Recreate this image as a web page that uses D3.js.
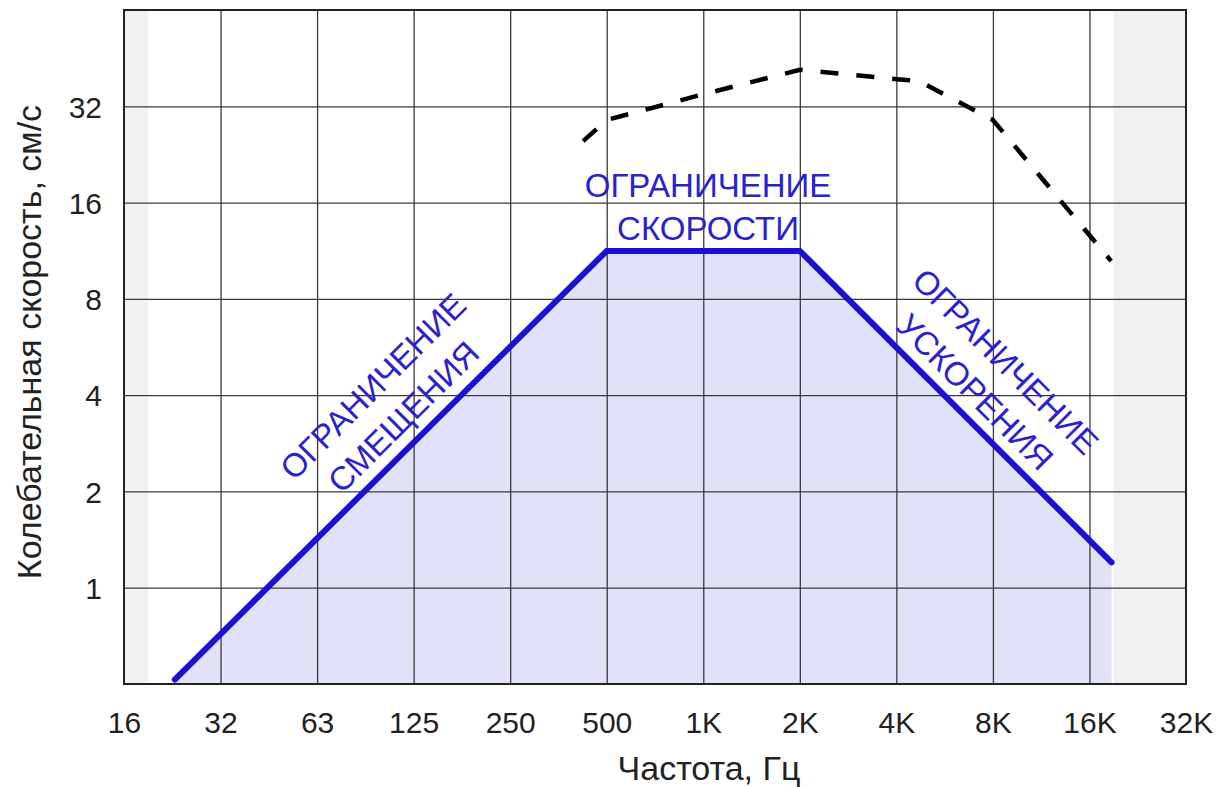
<!DOCTYPE html>
<html>
<head>
<meta charset="utf-8">
<script src="https://cdn.jsdelivr.net/npm/d3@7"></script>
<style>
  html, body { margin: 0; padding: 0; background: #ffffff; }
  svg { display: block; }
  text { font-family: "Liberation Sans", Arial, sans-serif; }
</style>
</head>
<body>
<svg id="chart" width="1216" height="787"></svg>
<script>
// ---- data ----
const freqTicks = [15.625, 31.25, 62.5, 125, 250, 500, 1000, 2000, 4000, 8000, 16000, 32000];
const freqTickLabels = ["16", "32", "63", "125", "250", "500", "1K", "2K", "4K", "8K", "16K", "32K"];
const velTicks = [1, 2, 4, 8, 16, 32];
const velTickLabels = ["1", "2", "4", "8", "16", "32"];

// limit curve (solid blue): frequency, Hz / velocity, cm/s
const limitFreq = [22.5, 500, 2000, 18750];
const limitVel  = [0.516, 11.3, 11.3, 1.2];

// dashed black curve
const dashFreq = [422, 500, 1000, 2000, 4000, 4700, 8000, 18700];
const dashVel  = [24.9, 29.0, 34.9, 41.6, 38.9, 38.4, 29.0, 10.5];

// audible range (outside is shaded gray)
const audibleRange = [18.6, 19000];

const xTitle = "Частота, Гц";
const yTitle = "Колебательная скорость, см/с";
const labelSpeed = ["ОГРАНИЧЕНИЕ", "СКОРОСТИ"];
const labelDisp  = ["ОГРАНИЧЕНИЕ", "СМЕЩЕНИЯ"];
const labelAcc   = ["ОГРАНИЧЕНИЕ", "УСКОРЕНИЯ"];

// ---- layout ----
const W = 1216, H = 787;
const margin = { left: 124, right: 30, top: 10, bottom: 103 };
const iw = W - margin.left - margin.right;
const ih = H - margin.top - margin.bottom;

const svg = d3.select("#chart");
const g = svg.append("g").attr("transform", `translate(${margin.left},${margin.top})`);

const x = d3.scaleLog().base(2).domain([15.625, 32000]).range([0, iw]);
const y = d3.scaleLog().base(2).domain([0.5, 64]).range([ih, 0]);

const blue = "#1c10d2";
const textBlue = "#2a22cc";
const fillBlue = "#e1e1fa";
const gray = "#f1f1f1";
const gridColor = "#3a3a3a";

// gray shaded areas outside the audible range
g.append("rect").attr("x", 0).attr("y", 0)
  .attr("width", x(audibleRange[0])).attr("height", ih).attr("fill", gray);
g.append("rect").attr("x", x(audibleRange[1])).attr("y", 0)
  .attr("width", iw - x(audibleRange[1])).attr("height", ih).attr("fill", gray);

// filled area under the limit curve
const limitData = limitFreq.map((f, i) => ({ f, v: limitVel[i] }));
g.append("path")
  .datum(limitData)
  .attr("fill", fillBlue)
  .attr("d", d3.area().x(d => x(d.f)).y0(ih).y1(d => y(d.v)));

// grid
g.append("g")
  .attr("class", "xgrid")
  .attr("transform", `translate(0,${ih})`)
  .call(d3.axisBottom(x).tickValues(freqTicks.slice(1, -1)).tickSize(-ih).tickFormat(""))
  .call(s => s.select(".domain").remove())
  .call(s => s.selectAll("line").attr("stroke", gridColor).attr("stroke-width", 1.3));
g.append("g")
  .attr("class", "ygrid")
  .call(d3.axisLeft(y).tickValues(velTicks).tickSize(-iw).tickFormat(""))
  .call(s => s.select(".domain").remove())
  .call(s => s.selectAll("line").attr("stroke", gridColor).attr("stroke-width", 1.3));

// frame
g.append("rect").attr("x", 0).attr("y", 0).attr("width", iw).attr("height", ih)
  .attr("fill", "none").attr("stroke", "#222").attr("stroke-width", 2);

// axes labels
const xAxis = g.append("g")
  .attr("transform", `translate(0,${ih})`)
  .call(d3.axisBottom(x).tickValues(freqTicks).tickSize(0)
    .tickFormat((d, i) => freqTickLabels[i]));
xAxis.select(".domain").remove();
xAxis.selectAll("text")
  .attr("y", 49).attr("dy", 0)
  .attr("fill", "#222")
  .style("font-size", "30px")
  .style("font-family", "'Liberation Sans', Arial, sans-serif");

const yAxis = g.append("g")
  .call(d3.axisLeft(y).tickValues(velTicks).tickSize(0)
    .tickFormat((d, i) => velTickLabels[i]));
yAxis.select(".domain").remove();
yAxis.selectAll("text")
  .attr("x", -22).attr("dy", "0.36em")
  .attr("fill", "#222")
  .style("font-size", "30px")
  .style("font-family", "'Liberation Sans', Arial, sans-serif");

svg.append("text")
  .attr("x", 709).attr("y", 780)
  .attr("text-anchor", "middle")
  .attr("fill", "#222")
  .style("font-size", "34px")
  .text(xTitle);

svg.append("text")
  .attr("transform", `translate(41,342) rotate(-90)`)
  .attr("text-anchor", "middle")
  .attr("fill", "#222")
  .style("font-size", "34px")
  .text(yTitle);

// dashed curve
const dashData = dashFreq.map((f, i) => ({ f, v: dashVel[i] }));
g.append("path")
  .datum(dashData)
  .attr("fill", "none")
  .attr("stroke", "#000")
  .attr("stroke-width", 4.5)
  .attr("stroke-dasharray", "18,18")
  .attr("d", d3.line().x(d => x(d.f)).y(d => y(d.v)));

// limit curve
g.append("path")
  .datum(limitData)
  .attr("fill", "none")
  .attr("stroke", blue)
  .attr("stroke-width", 6)
  .attr("stroke-linecap", "round")
  .attr("stroke-linejoin", "miter")
  .attr("d", d3.line().x(d => x(d.f)).y(d => y(d.v)));

// annotations
function label(lines, cx, cy, angle, gap) {
  const t = svg.append("g").attr("transform", `translate(${cx},${cy}) rotate(${angle})`);
  const fs = 33;
  lines.forEach((s, i) => {
    const off = (i - (lines.length - 1) / 2) * gap;
    t.append("text")
      .attr("x", 0).attr("y", off + 0.358 * fs)
      .attr("text-anchor", "middle")
      .attr("fill", textBlue)
      .style("font-size", fs + "px")
      .text(s);
  });
}
label(labelSpeed, 708, 206.5, 0, 43);
label(labelDisp, 388, 401.5, -45, 43);
label(labelAcc, 990.5, 376.5, 45, 43);
</script>
</body>
</html>
